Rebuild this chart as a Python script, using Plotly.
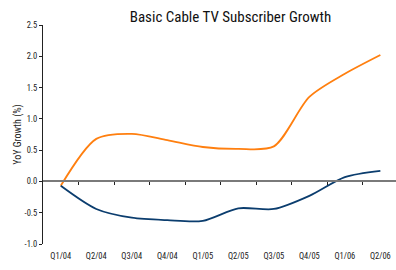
import plotly.graph_objects as go

categories = ["Q1/04", "Q2/04", "Q3/04", "Q4/04", "Q1/05", "Q2/05", "Q3/05", "Q4/05", "Q1/06", "Q2/06"]
orange_vals = [-0.07, 0.68, 0.76, 0.66, 0.55, 0.52, 0.56, 1.35, 1.72, 2.02]
blue_vals = [-0.07, -0.44, -0.58, -0.62, -0.63, -0.43, -0.44, -0.23, 0.07, 0.17]
y_ticks = [-1.0, -0.5, 0.0, 0.5, 1.0, 1.5, 2.0, 2.5]

FONT = "Roboto Condensed, Liberation Sans Narrow, Arial Narrow, Liberation Sans, Arial"
xs = list(range(len(categories)))
xrange = [-0.5, 9.44]
yrange = [-1.0, 2.5]

fig = go.Figure()
fig.add_trace(go.Scatter(x=xs, y=orange_vals, mode="lines", line=dict(color="#FF7F0F", width=1.8, shape="spline", smoothing=0.8), showlegend=False))
fig.add_trace(go.Scatter(x=xs, y=blue_vals, mode="lines", line=dict(color="#0B3D6E", width=1.8, shape="spline", smoothing=0.8), showlegend=False))
fig.add_trace(go.Scatter(x=[], y=[], xaxis="x2", yaxis="y", showlegend=False))

zero_pos = (0 - yrange[0]) / (yrange[1] - yrange[0])

fig.update_layout(
    width=396, height=270,
    margin=dict(l=43, r=0, t=25, b=26),
    paper_bgcolor="white", plot_bgcolor="white",
    title=dict(text="Basic Cable TV Subscriber Growth", x=0.582, xanchor="center", y=0.937, yanchor="middle",
               font=dict(family=FONT, size=15, color="#111111")),
    font=dict(family=FONT, size=8.5, color="#222222"),
    xaxis=dict(range=xrange, tickmode="array", tickvals=xs, ticktext=categories, showline=False,
               ticks="outside", ticklen=4, tickcolor="rgba(0,0,0,0)", showgrid=False, zeroline=False,
               tickfont=dict(size=8.5, family=FONT)),
    xaxis2=dict(range=xrange, overlaying="x", anchor="free", position=zero_pos, side="bottom",
                tickmode="array", tickvals=[i + 0.5 for i in range(len(categories) - 1)],
                showticklabels=False, showline=True, linecolor="#7a7a7a", linewidth=1.5,
                ticks="outside", ticklen=3, tickwidth=1, tickcolor="#222222", showgrid=False, zeroline=False),
    yaxis=dict(range=yrange, tickmode="array", tickvals=y_ticks, ticktext=[f"{v:.1f}" for v in y_ticks],
               showline=True, linecolor="#222222", linewidth=1, ticks="outside", ticklen=3,
               tickcolor="#222222", showgrid=False, zeroline=False,
               title=dict(text="YoY Growth (%)", font=dict(size=10, family=FONT), standoff=1),
               tickfont=dict(size=8.5, family=FONT)),
)

fig.write_html("out.html", config={"displayModeBar": False},
               post_script="document.body.style.margin='0px';")
